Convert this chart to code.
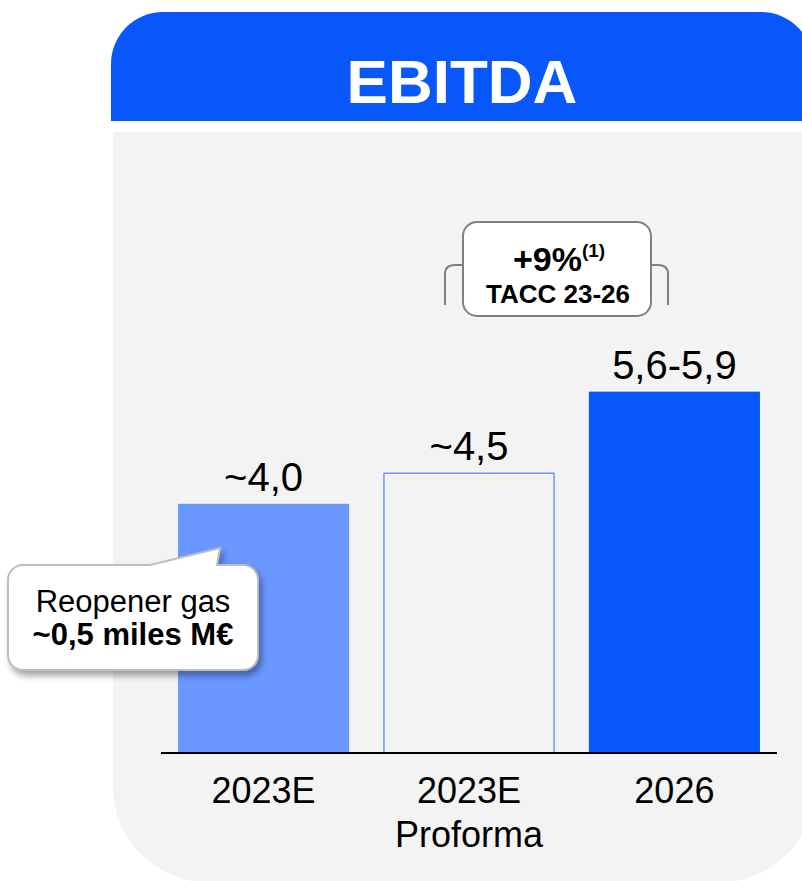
<!DOCTYPE html>
<html>
<head>
<meta charset="utf-8">
<script src="https://cdn.jsdelivr.net/npm/d3@7"></script>
<style>
  body { margin: 0; background: #ffffff; }
  svg { display: block; font-family: 'Liberation Sans', Arial, sans-serif; }
</style>
</head>
<body>
<div id="my_dataviz"></div>
<script>
// Chart data
var categories = ['2023E', '2023E Proforma', '2026']
var categoryLines = [['2023E'], ['2023E', 'Proforma'], ['2026']]
var values = [4.0, 4.5, 5.8]
var valueLabels = ['~4,0', '~4,5', '5,6-5,9']
var barStyles = ['light', 'outline', 'dark']
var title = 'EBITDA'
var growthText = '+9%'
var growthNote = '(1)'
var growthLabel = 'TACC 23-26'
var calloutLines = ['Reopener gas', '~0,5 miles M€']

var blue = '#0757fb'
var lightBlue = '#6a98ff'

var width = 802,
  height = 881

var svg = d3
  .select('#my_dataviz')
  .append('svg')
  .attr('width', width)
  .attr('height', height)

// drop shadow for the callout bubble
var defs = svg.append('defs')
defs
  .append('filter')
  .attr('id', 'shadow')
  .attr('x', '-20%')
  .attr('y', '-20%')
  .attr('width', '150%')
  .attr('height', '160%')
  .append('feDropShadow')
  .attr('dx', 3)
  .attr('dy', 5)
  .attr('stdDeviation', 3)
  .attr('flood-color', '#000')
  .attr('flood-opacity', 0.35)

// rounded path helper (per-corner radii: tl, tr, br, bl)
function roundRect(x, y, w, h, tl, tr, br, bl) {
  var p = d3.path()
  p.moveTo(x + tl, y)
  p.lineTo(x + w - tr, y)
  p.arcTo(x + w, y, x + w, y + tr, tr)
  p.lineTo(x + w, y + h - br)
  p.arcTo(x + w, y + h, x + w - br, y + h, br)
  p.lineTo(x + bl, y + h)
  p.arcTo(x, y + h, x, y + h - bl, bl)
  p.lineTo(x, y + tl)
  p.arcTo(x, y, x + tl, y, tl)
  p.closePath()
  return p.toString()
}

// gray panel
svg
  .append('path')
  .attr('d', roundRect(113, 132, 702, 750, 0, 0, 95, 95))
  .attr('fill', '#f3f3f3')

// blue header
svg
  .append('path')
  .attr('d', roundRect(111, 12, 702, 109, 52, 52, 0, 0))
  .attr('fill', blue)

svg
  .append('text')
  .attr('x', 462)
  .attr('y', 103)
  .attr('text-anchor', 'middle')
  .attr('fill', '#ffffff')
  .attr('font-weight', 'bold')
  .attr('font-size', 62)
  .text(title)

// scales
var baseline = 753
var x = d3
  .scaleBand()
  .domain(categories)
  .range([161, 777])
  .paddingInner(0.167)
  .paddingOuter(0.083)
var y = d3
  .scaleLinear()
  .domain([0, 6])
  .range([baseline, baseline - 6 * 62.3])

// bars
svg
  .selectAll('rect.bar')
  .data(values)
  .enter()
  .append('rect')
  .attr('class', 'bar')
  .attr('x', function (d, i) {
    return x(categories[i]) + (barStyles[i] === 'outline' ? 0.5 : 0)
  })
  .attr('y', function (d, i) {
    return y(d) + (barStyles[i] === 'outline' ? 0.5 : 0)
  })
  .attr('width', function (d, i) {
    return x.bandwidth() - (barStyles[i] === 'outline' ? 1 : 0)
  })
  .attr('height', function (d) {
    return baseline - y(d)
  })
  .attr('fill', function (d, i) {
    if (barStyles[i] === 'light') return lightBlue
    if (barStyles[i] === 'dark') return blue
    return 'none'
  })
  .attr('stroke', function (d, i) {
    return barStyles[i] === 'outline' ? '#2d6bff' : 'none'
  })
  .attr('stroke-width', 1)

// value labels
svg
  .selectAll('text.value')
  .data(values)
  .enter()
  .append('text')
  .attr('class', 'value')
  .attr('x', function (d, i) {
    return x(categories[i]) + x.bandwidth() / 2
  })
  .attr('y', function (d) {
    return y(d) - 13
  })
  .attr('text-anchor', 'middle')
  .attr('font-size', 40)
  .attr('fill', '#000')
  .text(function (d, i) {
    return valueLabels[i]
  })

// x axis line
svg
  .append('line')
  .attr('x1', 161)
  .attr('x2', 777)
  .attr('y1', baseline)
  .attr('y2', baseline)
  .attr('stroke', '#000')
  .attr('stroke-width', 2)

// category labels
var cat = svg
  .selectAll('text.cat')
  .data(categories)
  .enter()
  .append('text')
  .attr('class', 'cat')
  .attr('text-anchor', 'middle')
  .attr('font-size', 36)
  .attr('fill', '#000')

cat
  .selectAll('tspan')
  .data(function (d, i) {
    return categoryLines[i].map(function (t) {
      return { t: t, c: d }
    })
  })
  .enter()
  .append('tspan')
  .attr('x', function (d) {
    return x(d.c) + x.bandwidth() / 2
  })
  .attr('y', function (d, j) {
    return 803 + j * 44
  })
  .text(function (d) {
    return d.t
  })

// growth bracket
var bracket = svg.append('g').attr('fill', 'none').attr('stroke', '#808080').attr('stroke-width', 2)
bracket.append('path').attr('d', 'M445,305 L445,274 Q445,265 455,265 L463,265')
bracket.append('path').attr('d', 'M668,305 L668,274 Q668,265 658,265 L650,265')

svg
  .append('rect')
  .attr('x', 463)
  .attr('y', 222)
  .attr('width', 188)
  .attr('height', 94)
  .attr('rx', 14)
  .attr('fill', '#ffffff')
  .attr('stroke', '#808080')
  .attr('stroke-width', 2)

var g1 = svg
  .append('text')
  .attr('x', 559)
  .attr('y', 271)
  .attr('text-anchor', 'middle')
  .attr('font-weight', 'bold')
  .attr('fill', '#000')
g1.append('tspan').attr('font-size', 34).text(growthText)
g1.append('tspan').attr('font-size', 19).attr('dy', -14).text(growthNote)

svg
  .append('text')
  .attr('x', 558)
  .attr('y', 303)
  .attr('text-anchor', 'middle')
  .attr('font-weight', 'bold')
  .attr('font-size', 26)
  .attr('fill', '#000')
  .text(growthLabel)

// callout bubble
var bub = d3.path()
bub.moveTo(23, 565)
bub.lineTo(150, 565)
bub.lineTo(220, 548)
bub.lineTo(217, 565)
bub.lineTo(243, 565)
bub.arcTo(258, 565, 258, 580, 15)
bub.lineTo(258, 655)
bub.arcTo(258, 670, 243, 670, 15)
bub.lineTo(23, 670)
bub.arcTo(8, 670, 8, 655, 15)
bub.lineTo(8, 580)
bub.arcTo(8, 565, 23, 565, 15)
bub.closePath()

svg
  .append('path')
  .attr('d', bub.toString())
  .attr('fill', '#ffffff')
  .attr('stroke', '#bdbdbd')
  .attr('stroke-width', 2)
  .attr('filter', 'url(#shadow)')

svg
  .selectAll('text.callout')
  .data(calloutLines)
  .enter()
  .append('text')
  .attr('class', 'callout')
  .attr('x', 133)
  .attr('y', function (d, i) {
    return 612 + i * 33
  })
  .attr('text-anchor', 'middle')
  .attr('font-size', 31)
  .attr('font-weight', function (d, i) {
    return i === 1 ? 'bold' : 'normal'
  })
  .attr('fill', '#000')
  .text(function (d) {
    return d
  })
</script>
</body>
</html>
